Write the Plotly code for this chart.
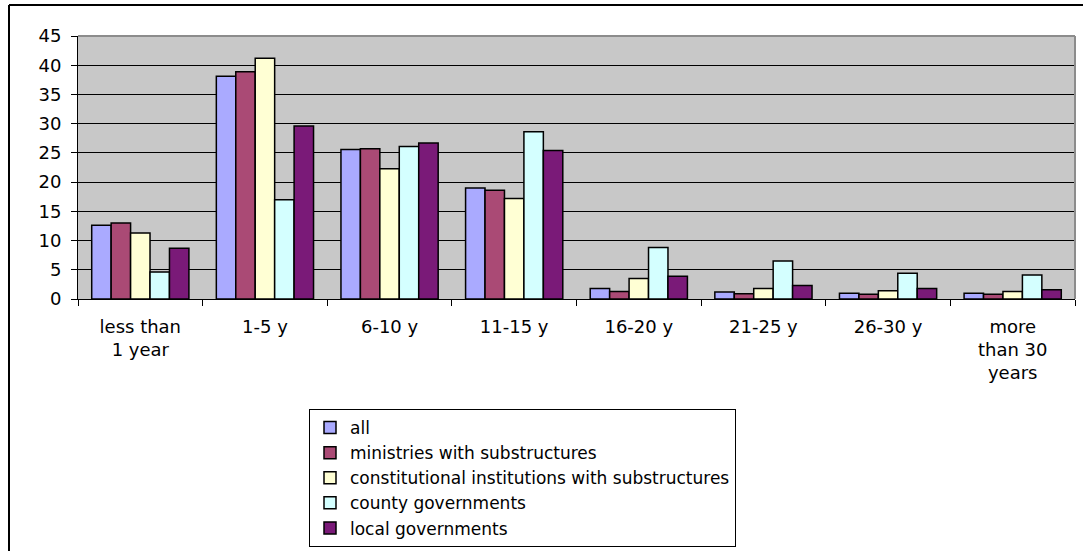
import plotly.graph_objects as go

# Length of service categories
categories = ["less than<br>1 year", "1-5 y", "6-10 y", "11-15 y",
              "16-20 y", "21-25 y", "26-30 y", "more<br>than 30<br>years"]

# Share of employees (%) per category for each group
all_staff = [12.6, 38.1, 25.6, 19.0, 1.8, 1.2, 1.0, 1.0]
ministries = [13.0, 38.9, 25.7, 18.6, 1.3, 0.9, 0.8, 0.8]
constitutional = [11.3, 41.2, 22.3, 17.2, 3.5, 1.8, 1.4, 1.3]
county = [4.6, 17.0, 26.1, 28.6, 8.8, 6.5, 4.4, 4.1]
local = [8.7, 29.6, 26.7, 25.4, 3.9, 2.3, 1.8, 1.6]

series = [
    ("all", all_staff, "#AAAAFF"),
    ("ministries with substructures", ministries, "#AA4A75"),
    ("constitutional institutions with substructures", constitutional, "#FFFFD4"),
    ("county governments", county, "#D4FFFF"),
    ("local governments", local, "#7A1A78"),
]

y_ticks = [0, 5, 10, 15, 20, 25, 30, 35, 40, 45]

FONT = "Verdana, DejaVu Sans, sans-serif"

fig = go.Figure()
for name, vals, color in series:
    fig.add_trace(go.Bar(
        x=categories, y=vals, name=name,
        marker=dict(color=color, line=dict(color="black", width=1.5)),
    ))

W, H = 1083, 551
L, R, T, B = 78, 8, 36, 252
pw, ph = W - L - R, H - T - B


def px_x(x):
    return (x - L) / pw


def px_y(y):
    return (H - B - y) / ph


fig.update_layout(
    width=W, height=H,
    margin=dict(l=L, r=R, t=T, b=B, autoexpand=False),
    paper_bgcolor="white",
    plot_bgcolor="#C8C8C8",
    barmode="group",
    bargap=0.22,
    bargroupgap=0,
    font=dict(family=FONT, size=18, color="black"),
    showlegend=True,
    legend=dict(
        x=px_x(309), y=px_y(409), xanchor="left", yanchor="top",
        bgcolor="white", bordercolor="black", borderwidth=1,
        font=dict(family=FONT, size=17, color="black"),
        tracegroupgap=0,
    ),
    xaxis=dict(
        type="category",
        tickson="boundaries",
        ticks="outside", ticklen=6, tickcolor="black", tickwidth=1,
        showline=True, linecolor="black", linewidth=1,
        showgrid=False,
        tickfont=dict(family=FONT, size=18, color="black"),
        tickangle=0,
        ticklabelstandoff=11,
        automargin=False,
    ),
    yaxis=dict(
        range=[0, 45],
        tickvals=y_ticks,
        ticks="outside", ticklen=6, tickcolor="black", tickwidth=1,
        showline=True, linecolor="black", linewidth=1,
        showgrid=True, gridcolor="black", gridwidth=1,
        zeroline=False,
        tickfont=dict(family=FONT, size=18, color="black"),
        ticklabelstandoff=6,
        automargin=False,
    ),
    shapes=[
        # plot area border on top and right
        dict(type="line", xref="paper", yref="paper", x0=0, x1=1, y0=1, y1=1,
             line=dict(color="#8C8C8C", width=2)),
        dict(type="line", xref="paper", yref="paper", x0=1, x1=1, y0=0, y1=1,
             line=dict(color="#8C8C8C", width=2)),
        # chart frame
        dict(type="line", xref="paper", yref="paper",
             x0=px_x(9), x1=px_x(W + 5), y0=px_y(5), y1=px_y(5),
             line=dict(color="black", width=2)),
        dict(type="line", xref="paper", yref="paper",
             x0=px_x(9), x1=px_x(9), y0=px_y(5), y1=px_y(H + 5),
             line=dict(color="black", width=2)),
    ],
)

fig.write_html("out.html")
